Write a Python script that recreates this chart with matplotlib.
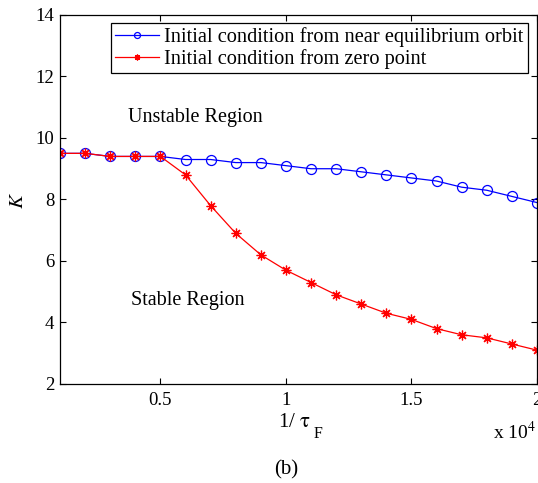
import numpy as np
import matplotlib.pyplot as plt

plt.rcParams['font.family'] = ['Liberation Serif', 'DejaVu Serif']
plt.rcParams['mathtext.fontset'] = 'stix'

# 1/tau_F values
inv_tau = [1000, 2000, 3000, 4000, 5000, 6000, 7000, 8000, 9000, 10000,
           11000, 12000, 13000, 14000, 15000, 16000, 17000, 18000, 19000, 20000]
k_orbit = [9.5, 9.5, 9.4, 9.4, 9.4, 9.3, 9.3, 9.2, 9.2, 9.1,
           9.0, 9.0, 8.9, 8.8, 8.7, 8.6, 8.4, 8.3, 8.1, 7.9]
k_zero = [9.5, 9.5, 9.4, 9.4, 9.4, 8.8, 7.8, 6.9, 6.2, 5.7,
          5.3, 4.9, 4.6, 4.3, 4.1, 3.8, 3.6, 3.5, 3.3, 3.1]

xticks = [5000, 10000, 15000, 20000]
xtick_labels = ['0.5', '1', '1.5', '2']
yticks = [2, 4, 6, 8, 10, 12, 14]

fig = plt.figure(figsize=(5.38, 4.83), dpi=100)
ax = fig.add_axes([0.1115, 0.205, 0.8866, 0.764])

ax.plot(inv_tau, k_orbit, color='blue', linewidth=0.9, marker='o',
        markersize=7.2, markerfacecolor='none', markeredgecolor='blue',
        markeredgewidth=0.9, label='Initial condition from near equilibrium orbit')
ax.plot(inv_tau, k_zero, color='red', linewidth=0.9, marker=(8, 2, 0),
        markersize=7, markeredgecolor='red', markeredgewidth=0.9,
        label='Initial condition from zero point')

ax.set_xlim(1000, 20000)
ax.set_ylim(2, 14)
ax.set_xticks(xticks)
ax.set_xticklabels(xtick_labels)
ax.set_yticks(yticks)
ax.tick_params(axis='both', which='both', direction='in', top=True, right=True,
               labelsize=13.5, length=4, width=0.8)
ax.tick_params(axis='x', pad=6)
ax.tick_params(axis='y', pad=4)
for s in ax.spines.values():
    s.set_linewidth(0.9)

ax.text(3720, 10.65, 'Unstable Region', fontsize=14.5, va='center', ha='left')
ax.text(3840, 4.73, 'Stable Region', fontsize=14.5, va='center', ha='left')

fig.text(0.035, 0.585, '$K$', fontsize=15, ha='center', va='center', rotation=90)
# x label: "1/ tau" with a lowered F subscript
fig.text(0.5167, 0.126, r'1/ $\mathrm{\tau}$', fontsize=15, ha='left', va='center')
fig.text(0.583, 0.101, 'F', fontsize=11.5, ha='left', va='center')
fig.text(0.997, 0.106, r'x 10$^4$', fontsize=14, ha='right', va='center')
fig.text(0.532, 0.027, '(b)', fontsize=15, ha='center', va='center')

leg = ax.legend(loc='upper right', bbox_to_anchor=(0.981, 0.978), fontsize=14.7,
                frameon=True, fancybox=False, edgecolor='black', framealpha=1,
                handlelength=2.15, handletextpad=0.25, borderpad=0.2,
                labelspacing=0.1, borderaxespad=0.0, markerscale=0.6)
leg.get_frame().set_linewidth(0.9)

plt.savefig('out.png', dpi=100)
